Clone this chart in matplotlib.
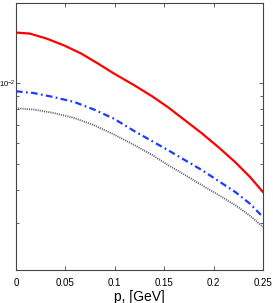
import numpy as np
import matplotlib
matplotlib.use('Agg')
import matplotlib.pyplot as plt
from matplotlib.ticker import LogLocator, NullFormatter, FixedLocator, FixedFormatter

plt.rcParams['font.family'] = ['Liberation Sans Narrow', 'Liberation Sans', 'DejaVu Sans']
plt.rcParams['mathtext.fontset'] = 'custom'
plt.rcParams['mathtext.rm'] = 'Liberation Sans Narrow'

p_red = [0.0, 0.014, 0.031, 0.049, 0.066, 0.083, 0.099, 0.120, 0.138, 0.154,
         0.171, 0.188, 0.205, 0.222, 0.237, 0.25]
red = [1.550e-2, 1.537e-2, 1.472e-2, 1.386e-2, 1.294e-2, 1.187e-2, 1.090e-2, 9.83e-3,
       8.94e-3, 8.14e-3, 7.28e-3, 6.51e-3, 5.77e-3, 5.07e-3, 4.46e-3, 3.92e-3]

p_low = [0.0, 0.018, 0.038, 0.059, 0.079, 0.099, 0.120, 0.138, 0.154, 0.171,
         0.188, 0.205, 0.222, 0.237, 0.25]
blue = [9.34e-3, 9.20e-3, 8.89e-3, 8.52e-3, 7.98e-3, 7.38e-3, 6.62e-3, 6.07e-3, 5.62e-3,
        5.16e-3, 4.74e-3, 4.31e-3, 3.92e-3, 3.54e-3, 3.16e-3]
gray = [8.07e-3, 7.98e-3, 7.75e-3, 7.42e-3, 6.97e-3, 6.44e-3, 5.87e-3, 5.39e-3, 4.94e-3,
        4.54e-3, 4.16e-3, 3.82e-3, 3.50e-3, 3.19e-3, 2.90e-3]

xticks = [0, 0.05, 0.1, 0.15, 0.2, 0.25]
xticklabels = ['0', '0.05', '0.1', '0.15', '0.2', '0.25']

fig = plt.figure(figsize=(2.73, 3.03), dpi=100)
ax = fig.add_axes([0.0586, 0.109, 0.9044, 0.881])

ax.plot(p_red, red, color='#ff0000', lw=1.6)
ax.plot(p_low, blue, color='#1a3cff', lw=1.6, linestyle=(0, (3, 1.5, 0.8, 1.5)))
ax.plot(p_low, gray, color='#606060', lw=1.3, linestyle=(0, (0.6, 0.6)))

ax.set_yscale('log')
ax.set_xlim(0, 0.25)
ax.set_ylim(2e-3, 2e-2)
ax.xaxis.set_major_locator(FixedLocator(xticks))
ax.xaxis.set_major_formatter(FixedFormatter(xticklabels))
ax.yaxis.set_major_locator(LogLocator(base=10))
ax.yaxis.set_minor_locator(LogLocator(base=10, subs=np.arange(2, 10)))
ax.yaxis.set_minor_formatter(NullFormatter())

for s in ax.spines.values():
    s.set_color('#444444')
    s.set_linewidth(0.8)
ax.tick_params(which='both', direction='in', top=True, right=True, colors='#444444',
               labelcolor='black', labelsize=7, width=0.6)
ax.tick_params(which='major', length=3)
ax.tick_params(which='minor', length=2)
ax.tick_params(axis='x', pad=6)
ax.tick_params(axis='y', labelsize=5.5, pad=0.5)
ax.set_xlabel('p, [GeV]', fontsize=10, labelpad=1)

fig.savefig('out.png', dpi=100)
